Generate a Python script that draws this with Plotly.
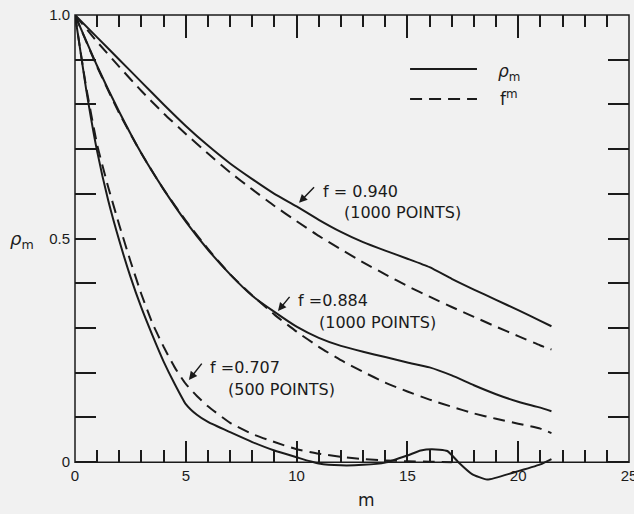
import plotly.graph_objects as go

# ---------------- data ----------------
m_full = [0, 1, 2, 3, 4, 5, 6, 7, 8, 9, 10, 11, 12, 13, 14, 15, 16, 17, 18, 19, 20, 21, 21.5]

rho_940 = [1.0, 0.95, 0.90, 0.85, 0.80, 0.752, 0.708, 0.668, 0.633, 0.60, 0.572, 0.542, 0.515,
           0.492, 0.473, 0.455, 0.436, 0.41, 0.386, 0.363, 0.34, 0.316, 0.304]
fm_940 = [1.0, 0.94, 0.884, 0.83, 0.78, 0.734, 0.69, 0.648, 0.61, 0.573, 0.539, 0.506, 0.476,
          0.447, 0.42, 0.394, 0.37, 0.347, 0.325, 0.303, 0.282, 0.261, 0.252]

rho_884 = [1.0, 0.886, 0.783, 0.69, 0.61, 0.538, 0.475, 0.42, 0.372, 0.336, 0.303, 0.278, 0.26,
           0.247, 0.235, 0.223, 0.212, 0.194, 0.172, 0.152, 0.135, 0.122, 0.114]
fm_884 = [1.0, 0.884, 0.78, 0.69, 0.61, 0.54, 0.477, 0.42, 0.373, 0.33, 0.292, 0.258, 0.228,
          0.202, 0.178, 0.158, 0.14, 0.124, 0.109, 0.097, 0.086, 0.075, 0.065]

m_707_fm = [0, 0.5, 1, 1.5, 2, 2.5, 3, 3.5, 4, 4.5, 5, 5.5, 6, 7, 8, 9, 10, 11, 12, 13, 14, 15, 16, 17]
fm_707 = [1.0, 0.84, 0.71, 0.615, 0.53, 0.45, 0.375, 0.31, 0.258, 0.212, 0.175, 0.148, 0.125,
          0.088, 0.063, 0.045, 0.029, 0.019, 0.012, 0.007, 0.004, 0.002, 0.001, 0.0]

m_707_rho = [0, 0.5, 1, 1.5, 2, 2.5, 3, 3.5, 4, 4.5, 5, 5.5, 6, 7, 8, 9, 10, 10.6, 11, 12, 13, 14,
             15, 15.6, 16.1, 16.8, 17.3, 17.9, 18.6, 19.8, 21, 21.5]
rho_707 = [1.0, 0.835, 0.695, 0.585, 0.495, 0.415, 0.345, 0.283, 0.225, 0.175, 0.13, 0.106, 0.09,
           0.067, 0.045, 0.026, 0.011, 0.002, -0.003, -0.007, -0.006, -0.001, 0.015, 0.026, 0.029,
           0.025, 0.0, -0.026, -0.039, -0.023, -0.005, 0.007]

x_tick_vals = [0, 5, 10, 15, 20, 25]
x_tick_labels = ["0", "5", "10", "15", "20", "25"]
y_tick_vals = [0, 0.5, 1.0]
y_tick_text = ["0", "0.5", "1.0"]

curve_labels = [
    ("f = 0.940", "(1000 POINTS)"),
    ("f =0.884", "(1000 POINTS)"),
    ("f =0.707", "(500 POINTS)"),
]

# ---------------- styling ----------------
INK = "#1b1b1b"
BG = "#f1f1f1"
DASH = "12px,7px"
X_RANGE = [0, 25]
Y_MIN = -0.06
Y_MAX = 1.0
TEXT_FONT = dict(family="DejaVu Sans", size=16, color=INK)
TICK_FONT = dict(family="Liberation Sans Narrow, Liberation Sans", size=15, color=INK)

fig = go.Figure()

series = [
    (m_full, rho_940, "solid", "x", "y"),
    (m_full, fm_940, DASH, "x2", "y2"),   # carried by the mirrored (top/right) axes
    (m_full, rho_884, "solid", "x", "y"),
    (m_full, fm_884, DASH, "x", "y"),
    (m_707_rho, rho_707, "solid", "x", "y"),
    (m_707_fm, fm_707, DASH, "x", "y"),
]
for xs, ys, dash, xa, ya in series:
    fig.add_trace(go.Scatter(
        x=xs, y=ys, mode="lines", xaxis=xa, yaxis=ya,
        line=dict(color=INK, width=2, dash=dash, shape="spline", smoothing=0.5),
        showlegend=False, hoverinfo="skip",
    ))

minor_x = dict(ticks="inside", tickmode="linear", tick0=0, dtick=1, ticklen=12,
               tickwidth=1.5, tickcolor=INK, showgrid=False)
minor_y = dict(ticks="inside", tickmode="linear", tick0=0, dtick=0.1, ticklen=21,
               tickwidth=1.5, tickcolor=INK, showgrid=False)
x_ticks = dict(
    range=X_RANGE, autorange=False, tickmode="array", tickvals=x_tick_vals,
    ticks="inside", tickwidth=1.5, tickcolor=INK,
    showline=False, showgrid=False, zeroline=False, automargin=False,
)
y_ticks = dict(
    range=[Y_MIN, Y_MAX], autorange=False, tickmode="array", tickvals=y_tick_vals,
    ticks="inside", tickwidth=1.5, tickcolor=INK, minor=minor_y,
    showline=False, showgrid=False, zeroline=False, automargin=False,
)

zero_frac = (0 - Y_MIN) / (Y_MAX - Y_MIN)

fig.update_layout(
    width=634, height=514,
    margin=dict(l=75, r=5, t=15, b=25, autoexpand=False),
    paper_bgcolor=BG, plot_bgcolor=BG,
    showlegend=False,
    font=TICK_FONT,
    xaxis=dict(**x_ticks, anchor="free", position=zero_frac, ticklen=21, minor=minor_x,
               ticktext=x_tick_labels, tickfont=TICK_FONT, ticklabelstandoff=3,
               ticklabeloverflow="allow"),
    xaxis2=dict(**x_ticks, overlaying="x", side="top", anchor="y2", showticklabels=False,
                ticklen=23, minor=minor_x),
    yaxis=dict(**y_ticks, ticklen=21, ticktext=y_tick_text, tickfont=TICK_FONT,
               ticklabelstandoff=4),
    yaxis2=dict(**y_ticks, ticklen=21, overlaying="y", side="right", anchor="x2",
                showticklabels=False),
)

# frame (axis box from y=0 to y=1), paper-referenced so it is never clipped
fig.add_shape(type="rect", xref="paper", yref="paper", x0=0, x1=1, y0=zero_frac, y1=1,
              line=dict(color=INK, width=1.5), layer="above")

# legend samples
fig.add_shape(type="line", xref="x", yref="y", x0=15.12, x1=18.14, y0=0.879, y1=0.879,
              line=dict(color=INK, width=2))
fig.add_shape(type="line", xref="x", yref="y", x0=15.12, x1=18.14, y0=0.812, y1=0.812,
              line=dict(color=INK, width=2, dash=DASH))
fig.add_annotation(x=19.0, y=0.872, xref="x", yref="y", xanchor="left", yanchor="middle",
                   text="<i>ρ</i><sub>m</sub>", showarrow=False,
                   font=dict(family="DejaVu Sans", size=17, color=INK))
fig.add_annotation(x=19.1, y=0.815, xref="x", yref="y", xanchor="left", yanchor="middle",
                   text="f<sup>m</sup>", showarrow=False,
                   font=dict(family="DejaVu Sans", size=17, color=INK))

# curve labels: first line carries the arrow (tip on the curve), second line below it
label_pos = [
    # arrow tip (x, y), first-line top-left (x, y), second-line left-middle (x, y)
    ((10.11, 0.580), (11.10, 0.631), (12.05, 0.559)),
    ((9.16, 0.338), (9.97, 0.387), (10.92, 0.313)),
    ((5.14, 0.184), (6.00, 0.238), (6.81, 0.162)),
]
for (l1, l2), (tip, p1, p2) in zip(curve_labels, label_pos):
    fig.add_annotation(x=tip[0], y=tip[1], xref="x", yref="y",
                       axref="x", ayref="y", ax=p1[0], ay=p1[1],
                       xanchor="left", yanchor="top", text=l1, font=TEXT_FONT,
                       showarrow=True, arrowhead=2, arrowsize=1.1, arrowwidth=1.5,
                       arrowcolor=INK, startstandoff=10, standoff=0)
    fig.add_annotation(x=p2[0], y=p2[1], xref="x", yref="y", xanchor="left", yanchor="middle",
                       text=l2, showarrow=False, font=TEXT_FONT)

# axis titles
fig.add_annotation(x=(366 - 75) / 554, y=(489.2 - 500) / 474.2, xref="paper", yref="paper",
                   text="m", showarrow=False, xanchor="center", yanchor="middle",
                   font=dict(family="DejaVu Sans", size=17, color=INK))
fig.add_annotation(x=(22 - 75) / 554, y=(489.2 - 240) / 474.2, xref="paper", yref="paper",
                   text="<i>ρ</i><sub>m</sub>", showarrow=False, xanchor="center", yanchor="middle",
                   font=dict(family="DejaVu Sans", size=18, color=INK))

fig.write_html("out.html")
